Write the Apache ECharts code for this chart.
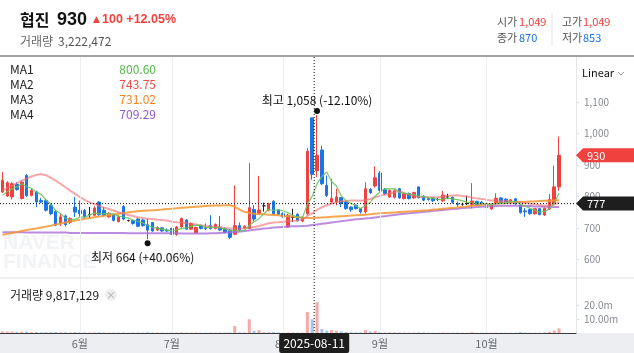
<!DOCTYPE html>
<html><head><meta charset="utf-8">
<script src="https://cdn.jsdelivr.net/npm/echarts@6/dist/echarts.min.js"></script>
<style>html,body{margin:0;padding:0;background:#fff;overflow:hidden}#c{width:634px;height:353px}</style>
</head><body><div id="c"></div>
<script>
// ---------------- data ----------------
const dates = [
'2025-05-09','2025-05-12','2025-05-13','2025-05-14','2025-05-15','2025-05-16','2025-05-19','2025-05-20','2025-05-21','2025-05-22','2025-05-23','2025-05-26','2025-05-27','2025-05-28','2025-05-29','2025-05-30',
'2025-06-02','2025-06-04','2025-06-05','2025-06-09','2025-06-10','2025-06-11','2025-06-12','2025-06-13','2025-06-16','2025-06-17','2025-06-18','2025-06-19','2025-06-20','2025-06-23','2025-06-24','2025-06-25','2025-06-26','2025-06-27','2025-06-30',
'2025-07-01','2025-07-02','2025-07-03','2025-07-04','2025-07-07','2025-07-08','2025-07-09','2025-07-10','2025-07-11','2025-07-14','2025-07-15','2025-07-16','2025-07-17','2025-07-18','2025-07-21','2025-07-22','2025-07-23','2025-07-24','2025-07-25','2025-07-28','2025-07-29','2025-07-30','2025-07-31',
'2025-08-01','2025-08-04','2025-08-05','2025-08-06','2025-08-07','2025-08-08','2025-08-11','2025-08-12','2025-08-13','2025-08-14','2025-08-18','2025-08-19','2025-08-20','2025-08-21','2025-08-22','2025-08-25','2025-08-26','2025-08-27','2025-08-28','2025-08-29',
'2025-09-01','2025-09-02','2025-09-03','2025-09-04','2025-09-05','2025-09-08','2025-09-09','2025-09-10','2025-09-11','2025-09-12','2025-09-15','2025-09-16','2025-09-17','2025-09-18','2025-09-19','2025-09-22','2025-09-23','2025-09-24','2025-09-25','2025-09-26','2025-09-29','2025-09-30',
'2025-10-01','2025-10-02','2025-10-10','2025-10-13','2025-10-14','2025-10-15','2025-10-16','2025-10-17','2025-10-20','2025-10-21','2025-10-22','2025-10-23','2025-10-24','2025-10-27','2025-10-28','2025-10-29'];

const opens = [
814,801,798,838,793,866,803,814,787,787,
772,751,714,738,717,766,756,756,742,740,
782,756,735,740,720,768,723,723,728,725,
711,717,693,700,693,698,679,703,725,696,
684,707,700,707,698,702,698,693,680,707,
700,698,758,745,770,756,784,756,745,703,
733,743,722,745,1049,882,947,835,782,782,
796,782,766,772,761,751,822,833,874,822,
798,797,824,793,809,795,830,801,793,795,
790,786,798,797,777,775,777,774,784,782,
777,760,777,795,791,778,792,772,754,758,
745,761,741,760,777,830];
const closes = [
851,843,840,822,845,803,819,782,782,756,
745,709,735,710,730,750,745,735,742,763,
742,740,745,724,735,728,723,714,705,707,
693,690,701,690,690,680,703,730,696,714,
701,698,698,698,711,693,685,670,707,693,
705,764,728,756,770,777,745,743,735,740,
733,724,733,943,870,930,840,803,793,798,
777,761,758,761,751,824,812,859,819,809,
819,818,795,809,793,812,796,788,790,786,
790,804,798,781,774,775,777,785,773,776,
765,775,794,780,779,789,776,749,751,745,
761,742,762,790,830,930];
const lows = [
810,798,790,818,790,798,800,766,778,752,
740,705,706,705,712,735,735,730,730,737,
738,735,732,720,717,724,720,710,702,704,
664,688,690,688,686,678,675,700,694,694,
682,695,693,695,695,690,683,665,677,687,
697,696,720,742,752,752,740,740,732,700,
719,720,718,740,853,861,835,798,777,772,
766,758,751,758,745,745,808,828,815,805,
795,793,792,790,790,792,793,785,786,782,
786,782,792,777,767,770,772,762,770,772,
762,758,774,777,776,775,773,745,735,742,
742,740,738,757,774,818];
const highs = [
877,848,845,845,850,870,825,818,795,792,
775,756,745,742,733,798,787,760,766,768,
785,766,750,745,740,772,726,726,732,728,
728,719,705,703,698,701,706,733,728,717,
704,710,714,740,714,738,701,696,835,717,
708,906,772,865,780,780,788,760,750,745,
761,746,736,953,1049,1058,961,866,856,824,
798,787,768,775,763,845,826,895,880,826,
822,822,827,812,812,815,832,803,796,797,
795,817,808,799,784,780,802,842,786,785,
780,778,810,798,794,791,795,775,763,761,
763,763,765,807,897,990];
// volume in millions of shares
const volumes = [
1.1,1.0,1.0,0.8,0.9,1.0,0.6,0.7,0.5,0.6,
0.6,0.7,0.5,0.5,0.4,0.6,0.5,0.4,0.3,0.4,
0.5,0.4,0.3,0.3,0.3,0.4,0.2,0.3,0.3,0.3,
0.5,0.4,0.3,0.3,0.2,0.3,0.3,0.4,0.3,0.3,
0.3,0.2,0.2,0.3,0.2,0.3,0.3,0.4,5.0,0.5,
0.4,9.8,1.5,2.0,0.6,0.5,0.6,0.4,0.3,0.4,
0.4,0.3,0.3,15.0,9.817129,22.0,2.9,1.7,2.1,1.5,
1.0,0.7,0.5,0.5,0.4,2.0,1.0,1.5,0.7,0.4,
0.4,0.4,0.4,0.3,0.3,0.3,0.4,0.3,0.2,0.2,
0.2,0.3,0.2,0.2,0.3,0.2,0.2,0.6,0.2,0.2,
0.2,0.2,0.3,0.2,0.2,0.2,0.2,0.6,0.3,0.2,
0.2,0.2,0.3,0.8,1.8,3.222472];
// moving-average values before enough visible history exists
const ma5Lead = [803,815,824,830];
const ma20Lead = [818,826,834,842,850,857,863,868,871,867,859,850,840,829,818,808,798,789,781];
// 60-day and 120-day averages
const ma60 = [
678,681,684,687,690,693,696,698,701,704,
707,711,714,717,720,723,726,729,731,734,
736,738,741,743,745,747,749,751,753,754,
755,756,757,758,760,761,762,764,765,766,
767,768,769,770,771,771,772,772,767,758,
751,748,745,744,743,742,741,740,738,737,
736,734,732,731,731,732,733,734,735,736,
737,738,739,740,741,742,743,745,746,747,
748,749,750,751,752,753,754,755,756,758,
759,761,762,764,765,767,768,770,771,773,
774,775,777,778,779,780,781,782,783,784,
784,785,786,786,787,788];
const ma120 = [
686,686,686,686,686,685,685,685,685,685,
685,685,685,685,684,684,684,684,684,684,
684,684,684,684,684,684,683,683,683,683,
683,683,683,683,683,683,683,682,682,682,
682,682,682,683,683,684,685,686,687,688,
690,692,694,696,698,699,701,702,703,704,
705,705,706,707,709,711,713,715,717,719,
721,723,725,727,728,730,731,733,735,737,
739,741,743,745,746,748,749,751,752,754,
755,757,758,760,761,763,764,765,766,767,
768,769,769,770,770,770,770,770,769,769,
768,768,767,767,766,766];
const monthTicks = ['2025-06-02','2025-07-01','2025-08-01','2025-09-01','2025-10-01'];
const monthNames = ['6월','7월','8월','9월','10월'];
const priceTicks = [600,700,800,900,1000,1100];
const volTicks = [10,20];
const volTickLabels = ['10.00m','20.0m'];
const maNames = ['MA1','MA2','MA3','MA4'];
const maShown = ['800.60','743.75','731.02','709.29'];
const stockName = '협진';
const todayVolume = 3222472;
const hoverDate = '2025-08-11';
const hoverVolume = 9817129;
const cursorPrice = 777;

// ---------------- styles ----------------
const FONT = '"Noto Sans CJK KR", "Liberation Sans", sans-serif';
const LAT = '"Liberation Sans", "Noto Sans CJK KR", sans-serif';
const UP = '#f0413f', DOWN = '#1d74e6', DOJI = '#222222';
const VOL_UP = 'rgba(240,96,96,0.55)', VOL_DOWN = 'rgba(70,140,230,0.5)';
const MA_LINE = ['rgba(104,196,94,0.9)','rgba(240,110,110,0.6)','rgba(246,150,50,0.85)','rgba(170,110,215,0.8)'];
const MA_TXT = ['#52b848','#ef4a4a','#f5821f','#9257cc'];

const nData = dates.length;
const cats = dates.concat([' ', '  ', '   ']);
const fmt = v => v.toLocaleString('en-US');

const ma5 = closes.map((c, i) => i < 4 ? ma5Lead[i] : +(closes.slice(i - 4, i + 1).reduce((a, b) => a + b, 0) / 5).toFixed(2));
const ma20 = closes.map((c, i) => i < 19 ? ma20Lead[i] : +(closes.slice(i - 19, i + 1).reduce((a, b) => a + b, 0) / 20).toFixed(2));

const candleData = dates.map((d, i) => {
  const item = { value: [opens[i], closes[i], lows[i], highs[i]] };
  if (opens[i] === closes[i]) item.itemStyle = { color: DOJI, color0: DOJI, borderColor: DOJI, borderColor0: DOJI };
  return item;
});
const volData = volumes.map((v, i) => ({ value: v, itemStyle: { color: closes[i] >= opens[i] ? VOL_UP : VOL_DOWN } }));

let iMax = 0, iMin = 0;
highs.forEach((h, i) => { if (h > highs[iMax]) iMax = i; });
lows.forEach((l, i) => { if (l < lows[iMin]) iMin = i; });
const last = closes[nData - 1], prev = closes[nData - 2];
const pct = (a, b) => ((a / b - 1) * 100).toFixed(2);
const maxLabel = '최고 ' + fmt(highs[iMax]) + ' (' + pct(last, highs[iMax]) + '%)';
const minLabel = '최저 ' + fmt(lows[iMin]) + ' (+' + pct(last, lows[iMin]) + '%)';

const gridLines = { silent: true, symbol: ['none', 'none'], label: { show: false },
  lineStyle: { color: '#eceef1', width: 1, type: 'solid' }, emphasis: { disabled: true },
  data: monthTicks.map(d => ({ xAxis: d })) };

const chart = echarts.init(document.getElementById('c'), null, { width: 634, height: 353 });
chart.setOption({
  animation: false,
  textStyle: { fontFamily: FONT },
  grid: [
    { left: 0, top: 57, width: 576, height: 221 },
    { left: 0, top: 278, width: 576, height: 55 }
  ],
  xAxis: [
    { type: 'category', gridIndex: 0, data: cats, boundaryGap: true,
      axisLine: { show: false }, axisTick: { show: false }, axisLabel: { show: false }, splitLine: { show: false } },
    { type: 'category', gridIndex: 1, data: cats, boundaryGap: true,
      axisLine: { show: true, lineStyle: { color: '#3a3a3a', width: 1 } }, axisTick: { show: false },
      axisLabel: { show: true, margin: 5, color: '#666a70', fontSize: 11, fontFamily: FONT,
        interval: (idx, val) => monthTicks.indexOf(val) >= 0,
        formatter: v => monthNames[monthTicks.indexOf(v)] || '' },
      splitLine: { show: false } }
  ],
  yAxis: [
    { type: 'value', gridIndex: 0, position: 'right', min: 541, max: 1242, scale: true,
      axisLine: { show: true, lineStyle: { color: '#e4e6ea' } },
      axisTick: { show: true, customValues: priceTicks, length: 3, lineStyle: { color: '#dfe2e6' } },
      axisLabel: { show: true, customValues: priceTicks, margin: 8, color: '#868b93', fontSize: 10, fontFamily: FONT, formatter: v => fmt(v) },
      splitLine: { show: false } },
    { type: 'value', gridIndex: 1, position: 'right', min: 0, max: 39.3,
      axisLine: { show: true, lineStyle: { color: '#e4e6ea' } },
      axisTick: { show: true, customValues: volTicks, length: 3, lineStyle: { color: '#dfe2e6' } },
      axisLabel: { show: true, customValues: volTicks, margin: 8, color: '#868b93', fontSize: 10, fontFamily: FONT,
        formatter: v => volTickLabels[volTicks.indexOf(v)] || '' },
      splitLine: { show: false } }
  ],
  series: [
    { type: 'candlestick', xAxisIndex: 0, yAxisIndex: 0, data: candleData, barWidth: 3, z: 3,
      itemStyle: { color: UP, color0: DOWN, borderColor: UP, borderColor0: DOWN, borderWidth: 1 },
      markLine: gridLines,
      markPoint: { symbol: 'circle', symbolSize: 6, itemStyle: { color: '#111' }, silent: true,
        data: [
          { coord: [dates[iMax], highs[iMax]], symbolOffset: [0, -4],
            label: { show: true, position: 'top', distance: 2, formatter: maxLabel, color: '#111', fontSize: 12, fontFamily: FONT } },
          { coord: [dates[iMin], lows[iMin]], symbolOffset: [0, 4],
            label: { show: true, position: 'bottom', distance: 5, offset: [-5, 0], formatter: minLabel, color: '#111', fontSize: 12, fontFamily: FONT } }
        ] } },
    { type: 'line', name: 'MA4', data: ma120, showSymbol: false, xAxisIndex: 0, yAxisIndex: 0, z: 4, lineStyle: { color: MA_LINE[3], width: 2 } },
    { type: 'line', name: 'MA3', data: ma60, showSymbol: false, xAxisIndex: 0, yAxisIndex: 0, z: 4, lineStyle: { color: MA_LINE[2], width: 2 } },
    { type: 'line', name: 'MA2', data: ma20, showSymbol: false, xAxisIndex: 0, yAxisIndex: 0, z: 4, lineStyle: { color: MA_LINE[1], width: 2 } },
    { type: 'line', name: 'MA1', data: ma5, showSymbol: false, xAxisIndex: 0, yAxisIndex: 0, z: 4, lineStyle: { color: MA_LINE[0], width: 1.2 } },
    { type: 'bar', xAxisIndex: 1, yAxisIndex: 1, data: volData, barWidth: 3, z: 3, markLine: gridLines }
  ]
});

// ---------------- overlay texts / cursor ----------------
const hi = dates.indexOf(hoverDate);
const px = chart.convertToPixel({ xAxisIndex: 0, yAxisIndex: 0 }, [hoverDate, cursorPrice]);
const cx = px[0] + 2, cy = px[1];
const lastY = chart.convertToPixel({ yAxisIndex: 0 }, last);
const T = (x, y, text, o) => ({ type: 'text', x, y, silent: true, z: (o && o.z) || 20,
  style: Object.assign({ text, fill: '#222', font: '12px ' + FONT, textAlign: 'left', textVerticalAlign: 'middle' }, o || {}) });
const tag = (y, color, text) => [
  { type: 'polygon', silent: true, z: 40, shape: { points: [[576, y], [583, y - 7], [634, y - 7], [634, y + 7], [583, y + 7]] }, style: { fill: color } },
  T(587, y, text, { fill: '#fff', font: '11px ' + FONT, z: 41 })
];
const els = [
  // x-axis band
  { type: 'rect', silent: true, z: -1, shape: { x: 0, y: 333, width: 634, height: 20 }, style: { fill: '#eceef1' } },
  // header separator and pane divider
  { type: 'line', silent: true, z: 20, shape: { x1: 0, y1: 56, x2: 634, y2: 56 }, style: { stroke: '#444', lineWidth: 1 } },
  { type: 'line', silent: true, z: 20, shape: { x1: 0, y1: 278, x2: 634, y2: 278 }, style: { stroke: '#dcdfe3', lineWidth: 1 } },
  // watermark
  T(3, 243, 'NAVER', { fill: '#f2f3f5', font: 'bold 21px "Liberation Sans", sans-serif', z: 1 }),
  T(3, 262, 'FINANCE', { fill: '#f2f3f5', font: 'bold 21px "Liberation Sans", sans-serif', z: 1 }),
  // header
  T(20, 20, stockName, { font: 'bold 16px ' + FONT, fill: '#111' }),
  T(57, 20, fmt(last), { font: 'bold 18px ' + LAT, fill: '#111' }),
  T(93, 20, '▲', { font: '9px "DejaVu Sans", sans-serif', fill: UP }),
  T(102, 20, fmt(last - prev) + ' +' + pct(last, prev) + '%', { font: 'bold 12.5px ' + LAT, fill: UP }),
  T(20, 41, '거래량', { font: '12px ' + FONT, fill: '#666' }),
  T(58, 41, fmt(todayVolume), { font: '12px ' + FONT, fill: '#555' }),
  T(497, 22, '시가', { font: '11px ' + FONT, fill: '#555' }),
  T(519, 22, fmt(opens[hi]), { font: '11px ' + FONT, fill: UP }),
  T(497, 38, '종가', { font: '11px ' + FONT, fill: '#555' }),
  T(519, 38, fmt(closes[hi]), { font: '11px ' + FONT, fill: DOWN }),
  { type: 'line', silent: true, z: 20, shape: { x1: 552, y1: 13, x2: 552, y2: 46 }, style: { stroke: '#e3e5e8', lineWidth: 1 } },
  T(562, 22, '고가', { font: '11px ' + FONT, fill: '#555' }),
  T(583, 22, fmt(highs[hi]), { font: '11px ' + FONT, fill: UP }),
  T(562, 38, '저가', { font: '11px ' + FONT, fill: '#555' }),
  T(583, 38, fmt(lows[hi]), { font: '11px ' + FONT, fill: DOWN }),
  // Linear selector
  T(582, 73, 'Linear', { font: '11px ' + FONT, fill: '#111' }),
  { type: 'polyline', silent: true, z: 20, shape: { points: [[618, 72], [621, 75], [624, 72]] }, style: { stroke: '#999', lineWidth: 1, fill: null } },
  // volume title
  T(10, 295, '거래량 ' + fmt(hoverVolume), { font: '12px ' + FONT, fill: '#222' }),
  { type: 'circle', silent: true, z: 20, shape: { cx: 111, cy: 295, r: 6 }, style: { fill: '#efefef' } },
  T(111, 295, '×', { font: '10px ' + FONT, fill: '#aaa', textAlign: 'center' }),
  // crosshair
  { type: 'line', silent: true, z: 30, shape: { x1: cx, y1: 57, x2: cx, y2: 333 }, style: { stroke: '#111', lineWidth: 1, lineDash: [1, 2] } },
  { type: 'line', silent: true, z: 30, shape: { x1: 0, y1: cy, x2: 576, y2: cy }, style: { stroke: '#111', lineWidth: 1, lineDash: [1, 2] } },
  { type: 'rect', silent: true, z: 40, shape: { x: cx - 35, y: 333, width: 70, height: 20, r: 2 }, style: { fill: '#1e1e1e' } },
  T(cx, 343, hoverDate, { fill: '#fff', font: '12px ' + FONT, textAlign: 'center', z: 41 })
];
maNames.forEach((n, k) => {
  els.push(T(10, 69 + k * 15, n, { font: '12px ' + FONT, fill: '#222' }));
  els.push(T(156, 69 + k * 15, maShown[k], { font: '12px ' + FONT, fill: MA_TXT[k], textAlign: 'right' }));
});
tag(lastY, UP, fmt(last)).forEach(e => els.push(e));
tag(cy, '#1e1e1e', fmt(cursorPrice)).forEach(e => els.push(e));
chart.setOption({ graphic: { elements: els } });
</script></body></html>
